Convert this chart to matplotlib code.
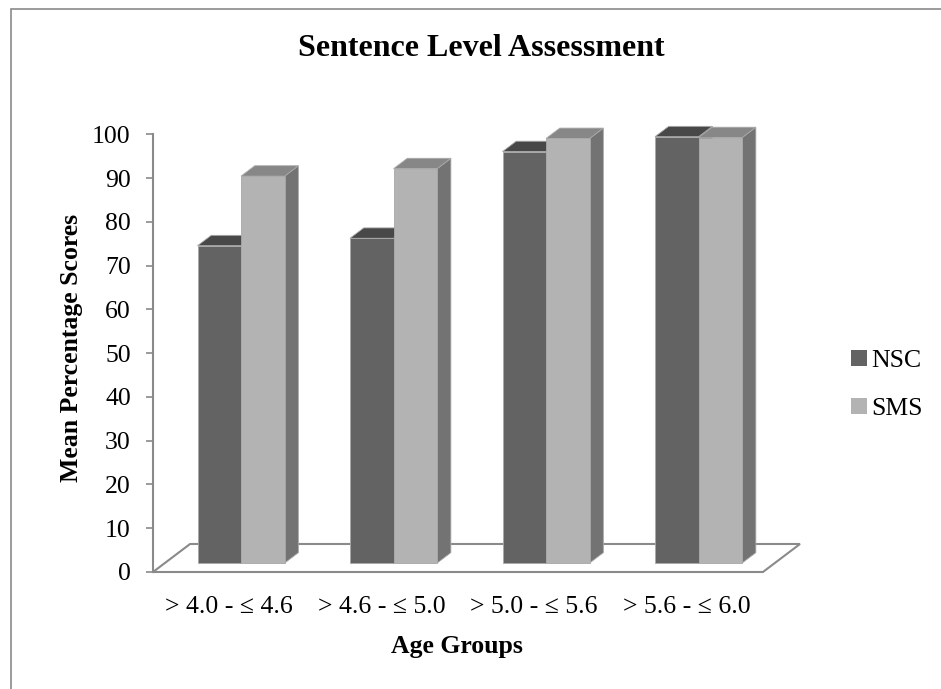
import matplotlib
matplotlib.use("Agg")
import matplotlib.pyplot as plt
from matplotlib.patches import Polygon, Rectangle, Patch

categories = ["> 4.0 - \u2264 4.6", "> 4.6 - \u2264 5.0", "> 5.0 - \u2264 5.6", "> 5.6 - \u2264 6.0"]
nsc = [72.5, 74.2, 94.0, 97.4]
sms = [88.4, 90.1, 97.0, 97.2]
series_names = ["NSC", "SMS"]

SERIF = ["Liberation Serif", "DejaVu Serif"]
plt.rcParams["font.family"] = SERIF

# oblique depth of the floor (category units, value units) and bar slab position
DX, DY = 0.243, 6.4
D0, D1 = 0.32, 0.69
BAR_W = 1 / 3.5
GRID = "#8a8a8a"
FS = 18.5

# front / top / side shades per series
shades = {
    "NSC": ("#636363", "#484848", "#4f4f4f"),
    "SMS": ("#b3b3b3", "#878787", "#737373"),
}

fig = plt.figure(figsize=(9.41, 6.89), dpi=100)
ax = fig.add_axes([153 / 941, 117 / 689, 647 / 941, 437.7 / 689])
ax.set_xlim(0, 4 + DX)
ax.set_ylim(0, 100)

# outer chart frame
fig.add_artist(Rectangle((11 / 941, -0.5), 2, 0.5 + 1 - 9 / 689, transform=fig.transFigure,
                         fill=False, edgecolor=GRID, lw=1.2))

# floor
ax.add_patch(Polygon([(0, 0), (4, 0), (4 + DX, DY), (DX, DY)], closed=True,
                     facecolor="white", edgecolor=GRID, lw=1.5, clip_on=False, zorder=1))


def draw_bar(x, v, name):
    front, top, side = shades[name]
    ox, oy = D0 * DX, D0 * DY
    dx, dy = (D1 - D0) * DX, (D1 - D0) * DY
    x0, x1 = x + ox, x + BAR_W + ox
    kw = dict(closed=True, edgecolor="#a8a8a8", lw=0.6, clip_on=False, zorder=2)
    ax.add_patch(Polygon([(x1, oy), (x1 + dx, oy + dy), (x1 + dx, v + oy + dy), (x1, v + oy)],
                         facecolor=side, **kw))
    ax.add_patch(Polygon([(x0, v + oy), (x1, v + oy), (x1 + dx, v + oy + dy), (x0 + dx, v + oy + dy)],
                         facecolor=top, **kw))
    ax.add_patch(Rectangle((x0, oy), BAR_W, v, facecolor=front, edgecolor="#a8a8a8",
                           lw=0.6, clip_on=False, zorder=2))


for i in range(len(categories)):
    left = i + (1 - 2 * BAR_W) / 2
    draw_bar(left, nsc[i], "NSC")
    draw_bar(left + BAR_W, sms[i], "SMS")

for s in ["top", "right", "bottom"]:
    ax.spines[s].set_visible(False)
ax.spines["left"].set_color(GRID)
ax.spines["left"].set_linewidth(1.5)
ax.set_yticks(range(0, 101, 10))
ax.tick_params(axis="y", direction="out", length=5, width=1.2, color=GRID,
               labelsize=FS, pad=11)
ax.set_xticks([i + 0.5 for i in range(len(categories))])
ax.set_xticklabels(categories, fontsize=FS)
ax.tick_params(axis="x", length=0, pad=17)

fig.text(481 / 941, 1 - 49 / 689, "Sentence Level Assessment", ha="center", va="center",
         fontsize=23, fontweight="bold")
fig.text(72 / 941, 1 - 348 / 689, "Mean Percentage Scores", ha="center", va="center",
         rotation=90, fontsize=FS, fontweight="bold")
fig.text(457 / 941, 1 - 646 / 689, "Age Groups", ha="center", va="center",
         fontsize=FS, fontweight="bold")

handles = [Patch(facecolor=shades[n][0], edgecolor="none") for n in series_names]
fig.legend(handles, series_names, loc="center left", bbox_to_anchor=(828 / 941, 1 - 385 / 689),
           frameon=False, fontsize=FS, handlelength=0.6, handleheight=0.6,
           handletextpad=0.2, labelspacing=1.0)

fig.savefig("out.png", dpi=100)
